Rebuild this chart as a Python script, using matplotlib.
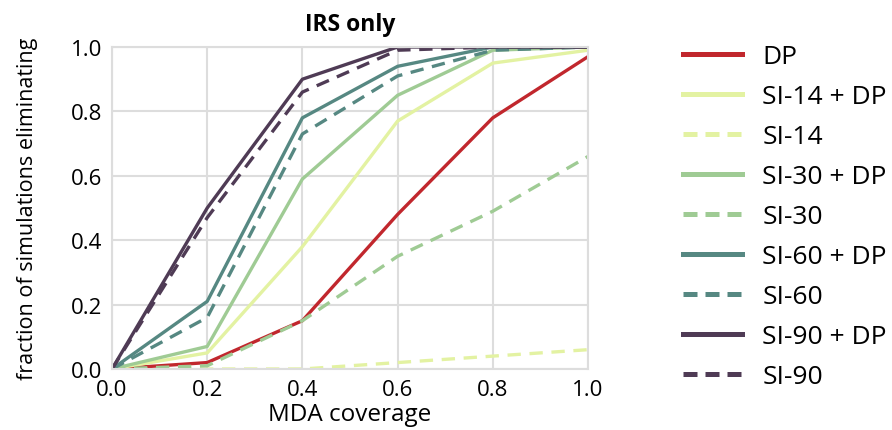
import matplotlib.pyplot as plt

coverage = [0.0, 0.2, 0.4, 0.6, 0.8, 1.0]

dp = [0.0, 0.02, 0.15, 0.48, 0.78, 0.97]
si14_dp = [0.0, 0.05, 0.38, 0.77, 0.95, 0.99]
si14 = [0.0, 0.0, 0.0, 0.02, 0.04, 0.06]
si30_dp = [0.0, 0.07, 0.59, 0.85, 0.99, 1.0]
si30 = [0.0, 0.01, 0.15, 0.35, 0.49, 0.66]
si60_dp = [0.0, 0.21, 0.78, 0.94, 1.0, 1.0]
si60 = [0.0, 0.16, 0.73, 0.91, 0.99, 1.0]
si90_dp = [0.0, 0.50, 0.90, 1.0, 1.0, 1.0]
si90 = [0.0, 0.47, 0.86, 0.99, 1.0, 1.0]

labels = ["DP", "SI-14 + DP", "SI-14", "SI-30 + DP", "SI-30",
          "SI-60 + DP", "SI-60", "SI-90 + DP", "SI-90"]
series = [dp, si14_dp, si14, si30_dp, si30, si60_dp, si60, si90_dp, si90]
colors = ["#c1272d", "#e3f2a2", "#e3f2a2", "#9fcb94", "#9fcb94",
          "#568882", "#568882", "#4f3b55", "#4f3b55"]
styles = ["-", "-", "--", "-", "--", "-", "--", "-", "--"]

plt.rcParams["font.family"] = ["Open Sans", "DejaVu Sans"]

fig = plt.figure(figsize=(8.92, 4.31), dpi=100)
ax = fig.add_axes([112 / 892, 1 - 370 / 431, 476 / 892, 322 / 431])

for vals, lab, col, ls in zip(series, labels, colors, styles):
    line, = ax.plot(coverage, vals, color=col, linewidth=2.4, label=lab)
    if ls == "--":
        line.set_dashes((4, 2.6))

ax.set_xlim(0, 1)
ax.set_ylim(0, 1)
ax.set_xticks(coverage)
ax.set_yticks(coverage)
ax.set_xticklabels([f"{v:.1f}" for v in coverage])
ax.set_yticklabels([f"{v:.1f}" for v in coverage])
ax.tick_params(length=0, labelsize=16, pad=7)
ax.grid(color="#dddddd", linewidth=1.5)
ax.set_axisbelow(True)
for sp in ax.spines.values():
    sp.set_color("#dddddd")
    sp.set_linewidth(1.5)

ax.set_xlabel("MDA coverage", fontsize=17.5, labelpad=2)
ax.set_ylabel("fraction of simulations eliminating", fontsize=15.5, labelpad=24)
ax.set_title("IRS only", fontsize=16.5, fontweight="bold", pad=12)

leg = fig.legend(loc="upper left", bbox_to_anchor=(683 / 892, 1 - 45 / 431),
                 frameon=False, fontsize=19, handlelength=2.25,
                 labelspacing=0.57, handletextpad=0.75,
                 borderpad=0, borderaxespad=0)
for ln, ls in zip(leg.get_lines(), styles):
    ln.set_linewidth(3.6)
    if ls == "--":
        ln.set_dashes((2.8, 1.6))

fig.savefig("out.png", dpi=100)
